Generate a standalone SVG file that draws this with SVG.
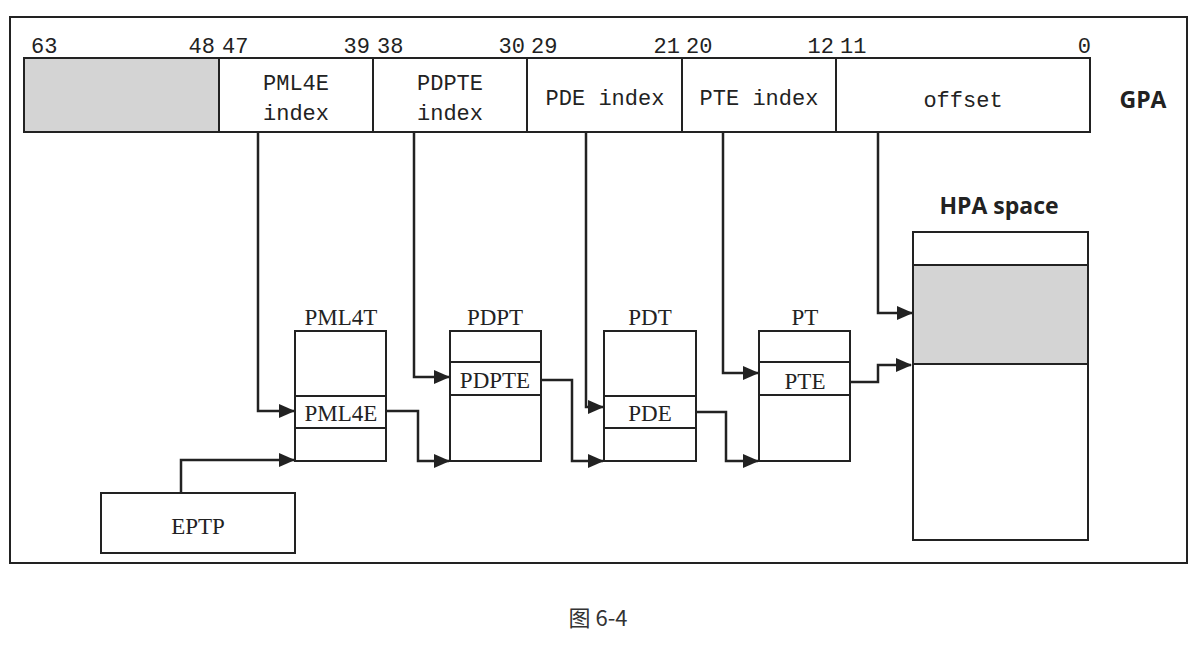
<svg xmlns="http://www.w3.org/2000/svg" width="1198" height="650" viewBox="0 0 1198 650">
<style>
.box{fill:#fff;stroke:#222;stroke-width:2}
.gray{fill:#d4d4d4;stroke:#222;stroke-width:2}
.ln{stroke:#222;stroke-width:2;fill:none}
.mono{font-family:'Liberation Mono',monospace;font-size:22px;fill:#222}
.ser{font-family:'Liberation Serif',serif;font-size:23px;fill:#222;text-anchor:middle}
.bold{font-family:'Open Sans','Liberation Sans',sans-serif;font-weight:bold;font-size:23px;fill:#222}
.conn{stroke:#222;stroke-width:2.5;fill:none;marker-end:url(#ah)}
</style>
<defs>
<marker id="ah" markerWidth="16" markerHeight="14" refX="15" refY="7" orient="auto" markerUnits="userSpaceOnUse">
<path d="M0,0 L16,7 L0,14 Z" fill="#222"/>
</marker>
</defs>
<rect x="0" y="0" width="1198" height="650" fill="#fff"/>
<rect x="10" y="17" width="1177" height="546" class="box"/>

<g id="gpa">
<rect x="24" y="58" width="1066" height="74" class="box"/>
<rect x="24" y="58" width="195" height="74" class="gray"/>
<line x1="373" y1="58" x2="373" y2="132" class="ln"/>
<line x1="527" y1="58" x2="527" y2="132" class="ln"/>
<line x1="682" y1="58" x2="682" y2="132" class="ln"/>
<line x1="836" y1="58" x2="836" y2="132" class="ln"/>
<g class="mono">
<text x="31" y="53">63</text>
<text x="215" y="53" text-anchor="end">48</text>
<text x="222" y="53">47</text>
<text x="370" y="53" text-anchor="end">39</text>
<text x="377" y="53">38</text>
<text x="525" y="53" text-anchor="end">30</text>
<text x="531" y="53">29</text>
<text x="680" y="53" text-anchor="end">21</text>
<text x="686" y="53">20</text>
<text x="834" y="53" text-anchor="end">12</text>
<text x="840" y="53">11</text>
<text x="1091" y="53" text-anchor="end">0</text>
</g>
<g class="mono" text-anchor="middle">
<text x="296" y="90">PML4E</text>
<text x="296" y="120">index</text>
<text x="450" y="90">PDPTE</text>
<text x="450" y="120">index</text>
<text x="605" y="105">PDE index</text>
<text x="759" y="105">PTE index</text>
<text x="963" y="107">offset</text>
</g>
<text x="1143" y="108" class="bold" text-anchor="middle">GPA</text>
</g>

<g id="pml4t">
<text x="341" y="325" class="ser">PML4T</text>
<rect x="295" y="331" width="91" height="130" class="box"/>
<line x1="295" y1="396" x2="386" y2="396" class="ln"/>
<line x1="295" y1="428" x2="386" y2="428" class="ln"/>
<text x="341" y="421" class="ser">PML4E</text>
</g>

<g id="pdpt">
<text x="495" y="325" class="ser">PDPT</text>
<rect x="450" y="331" width="91" height="130" class="box"/>
<line x1="450" y1="362" x2="541" y2="362" class="ln"/>
<line x1="450" y1="395" x2="541" y2="395" class="ln"/>
<text x="495" y="388" class="ser">PDPTE</text>
</g>

<g id="pdt">
<text x="650" y="325" class="ser">PDT</text>
<rect x="604" y="331" width="92" height="130" class="box"/>
<line x1="604" y1="396" x2="696" y2="396" class="ln"/>
<line x1="604" y1="428" x2="696" y2="428" class="ln"/>
<text x="650" y="421" class="ser">PDE</text>
</g>

<g id="pt">
<text x="805" y="325" class="ser">PT</text>
<rect x="759" y="331" width="91" height="130" class="box"/>
<line x1="759" y1="362" x2="850" y2="362" class="ln"/>
<line x1="759" y1="395" x2="850" y2="395" class="ln"/>
<text x="805" y="389" class="ser">PTE</text>
</g>

<g id="hpa">
<text x="999" y="214" class="bold" text-anchor="middle">HPA space</text>
<rect x="913" y="232" width="175" height="308" class="box"/>
<rect x="913" y="265" width="175" height="99" class="gray"/>
</g>

<g id="eptp">
<rect x="101" y="493" width="194" height="60" class="box"/>
<text x="198" y="534" class="ser">EPTP</text>
</g>

<g id="connectors">
<path d="M258,132 V411 H294" class="conn"/>
<path d="M414,132 V377 H449" class="conn"/>
<path d="M586,132 V407 H603" class="conn"/>
<path d="M723,132 V373 H758" class="conn"/>
<path d="M878,132 V313 H912" class="conn"/>
<path d="M181,493 V460 H294" class="conn"/>
<path d="M386,411 H418 V461 H449" class="conn"/>
<path d="M541,380 H572 V461 H603" class="conn"/>
<path d="M696,412 H726 V461 H758" class="conn"/>
<path d="M850,382 H878 V365 H911" class="conn"/>
</g>

<text x="598" y="626" text-anchor="middle" font-family="'Noto Sans CJK SC',sans-serif" font-size="22" fill="#333">图 6-4</text>
</svg>
